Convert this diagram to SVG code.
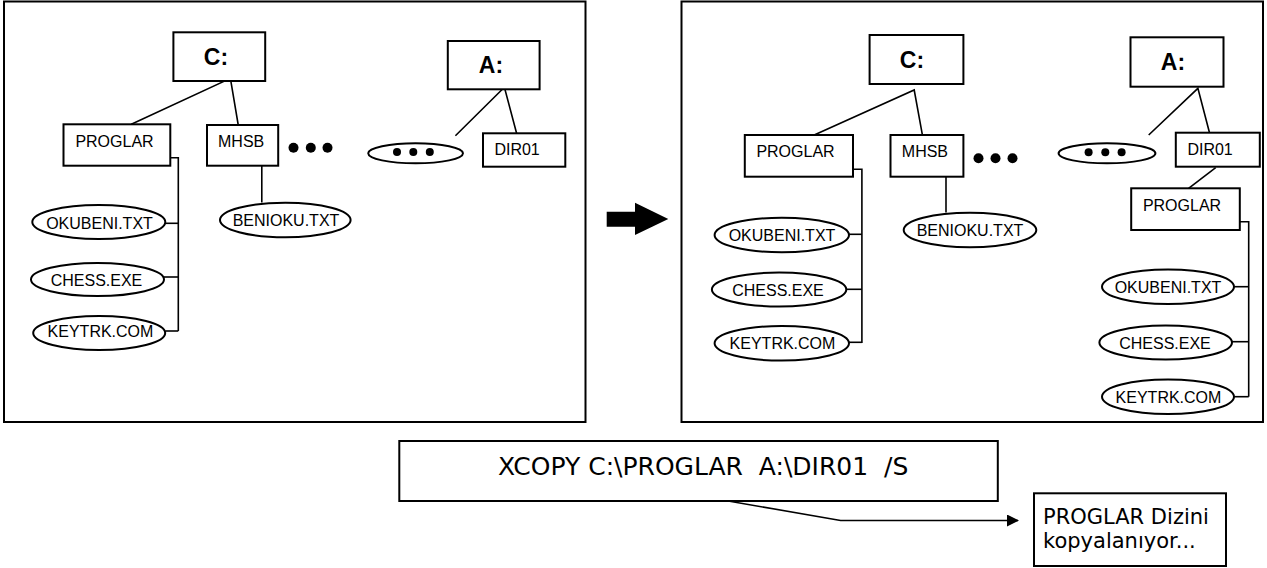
<svg xmlns="http://www.w3.org/2000/svg" width="1267" height="568" viewBox="0 0 1267 568">
<style>
.frame{fill:#fff;stroke:#000;stroke-width:2}
.box{fill:#fff;stroke:#000;stroke-width:2}
.ell{fill:#fff;stroke:#000;stroke-width:2}
.ln{fill:none;stroke:#000;stroke-width:1.6}
.drv{font-family:"Liberation Sans",Arial,sans-serif;font-weight:bold;font-size:23px;text-anchor:middle}
.lbl{font-family:"Liberation Sans",Arial,sans-serif;font-size:16px}
.elbl{font-family:"Liberation Sans",Arial,sans-serif;font-size:16px;text-anchor:middle}
.cmd{font-family:"DejaVu Sans",Verdana,sans-serif;font-size:25px}
.msg{font-family:"DejaVu Sans",Verdana,sans-serif;font-size:21px}
</style>
<defs>
<marker id="ah" markerWidth="12" markerHeight="12" refX="11" refY="6" orient="auto" markerUnits="userSpaceOnUse">
<path d="M0,0 L12,6 L0,12 Z" fill="#000"/>
</marker>
</defs>
<rect width="1267" height="568" fill="#fff"/>
<g id="panel-left"><rect class="frame" x="4" y="1.5" width="581.5" height="420.5"/></g>
<g id="panel-right"><rect class="frame" x="681.5" y="1.5" width="581.5" height="420.5"/></g>

<g id="connectors">
<polyline class="ln" points="131.3,124.3 230.4,78.3 238.4,126"/>
<polyline class="ln" points="455.4,135.7 504.4,87.3 516.6,133.3"/>
<line class="ln" x1="261.8" y1="165.7" x2="261.8" y2="202.5"/>
<polyline class="ln" points="170.3,157.7 178.3,157.7 178.3,331"/>
<line class="ln" x1="165.3" y1="223.3" x2="178.3" y2="223.3"/>
<line class="ln" x1="163.8" y1="277" x2="178.3" y2="277"/>
<line class="ln" x1="165.3" y1="331" x2="178.3" y2="331"/>
<polyline class="ln" points="814.2,135 914.2,90 922.7,136.7"/>
<polyline class="ln" points="1148.7,135 1197.9,88.3 1209.5,132.7"/>
<line class="ln" x1="1215.7" y1="167.7" x2="1188.6" y2="188.3"/>
<line class="ln" x1="946" y1="176.7" x2="946" y2="212.5"/>
<polyline class="ln" points="853,169.3 861.9,169.3 861.9,343"/>
<line class="ln" x1="849" y1="234.3" x2="861.9" y2="234.3"/>
<line class="ln" x1="846.4" y1="289.3" x2="861.9" y2="289.3"/>
<line class="ln" x1="849" y1="342.3" x2="861.9" y2="342.3"/>
<polyline class="ln" points="1239.8,221.7 1248.7,221.7 1248.7,396.7"/>
<line class="ln" x1="1234" y1="286.7" x2="1248.7" y2="286.7"/>
<line class="ln" x1="1232" y1="341.7" x2="1248.7" y2="341.7"/>
<line class="ln" x1="1234" y1="396.7" x2="1248.7" y2="396.7"/>
<polyline class="ln" points="665,490 840.6,520.5 1018,520.5" marker-end="url(#ah)"/>
</g>

<g id="big-arrow"><polygon points="606.7,211.7 635,211.7 635,202.7 668.3,219 635,235 635,226.7 606.7,226.7" fill="#000"/></g>

<g id="L-C"><rect class="box" x="173.4" y="32.3" width="91.8" height="48.7"/><text class="drv" x="216" y="65">C:</text></g>
<g id="L-A"><rect class="box" x="447.8" y="41" width="91.8" height="48.3"/><text class="drv" x="491" y="73">A:</text></g>
<g id="L-PROGLAR"><rect class="box" x="63.5" y="124.3" width="106.8" height="41.4"/><text class="lbl" x="75.4" y="147.3">PROGLAR</text></g>
<g id="L-MHSB"><rect class="box" x="207" y="125" width="71.2" height="40.7"/><text class="lbl" x="218" y="147">MHSB</text></g>
<g id="L-dots"><circle cx="293.5" cy="147.7" r="5"/><circle cx="310.8" cy="147.7" r="5"/><circle cx="327.5" cy="147.7" r="5"/></g>
<g id="L-more"><ellipse class="ell" cx="415.6" cy="153.3" rx="47.4" ry="10"/><circle cx="397" cy="152" r="4"/><circle cx="413.3" cy="152" r="4"/><circle cx="429.8" cy="152" r="4"/></g>
<g id="L-DIR01"><rect class="box" x="483" y="133.3" width="82.3" height="33.4"/><text class="lbl" x="494.4" y="155">DIR01</text></g>
<g id="L-OKUBENI"><ellipse class="ell" cx="98.8" cy="222" rx="66.5" ry="17"/><text class="elbl" x="99.5" y="229">OKUBENI.TXT</text></g>
<g id="L-CHESS"><ellipse class="ell" cx="97.5" cy="279.5" rx="66.5" ry="16.5"/><text class="elbl" x="96.5" y="285.5">CHESS.EXE</text></g>
<g id="L-KEYTRK"><ellipse class="ell" cx="99.2" cy="333" rx="66" ry="17"/><text class="elbl" x="100.5" y="337">KEYTRK.COM</text></g>
<g id="L-BENIOKU"><ellipse class="ell" cx="285.3" cy="220" rx="65.3" ry="17.3"/><text class="elbl" x="286" y="225.5">BENIOKU.TXT</text></g>

<g id="R-C"><rect class="box" x="869.6" y="35" width="93.8" height="49"/><text class="drv" x="912" y="68">C:</text></g>
<g id="R-A"><rect class="box" x="1130.5" y="37.3" width="93" height="49.4"/><text class="drv" x="1173" y="70">A:</text></g>
<g id="R-PROGLAR"><rect class="box" x="744.8" y="135" width="108.2" height="41.7"/><text class="lbl" x="756.4" y="157.3">PROGLAR</text></g>
<g id="R-MHSB"><rect class="box" x="890.5" y="135" width="72.9" height="41.7"/><text class="lbl" x="901.8" y="157.3">MHSB</text></g>
<g id="R-dots"><circle cx="978.5" cy="158.3" r="5"/><circle cx="995.5" cy="158.3" r="5"/><circle cx="1012.5" cy="158.3" r="5"/></g>
<g id="R-more"><ellipse class="ell" cx="1107" cy="153.3" rx="48.4" ry="10"/><circle cx="1088.6" cy="152.3" r="4"/><circle cx="1105.3" cy="152.3" r="4"/><circle cx="1121.6" cy="152.3" r="4"/></g>
<g id="R-DIR01"><rect class="box" x="1175.8" y="132.7" width="84" height="34"/><text class="lbl" x="1187.4" y="155">DIR01</text></g>
<g id="R-PROGLAR2"><rect class="box" x="1131.2" y="188.3" width="108.6" height="41.7"/><text class="lbl" x="1142.9" y="210.7">PROGLAR</text></g>
<g id="R-OKUBENI"><ellipse class="ell" cx="781.8" cy="235" rx="67.2" ry="17.3"/><text class="elbl" x="782" y="241">OKUBENI.TXT</text></g>
<g id="R-CHESS"><ellipse class="ell" cx="779.1" cy="289.5" rx="67.2" ry="17"/><text class="elbl" x="778" y="295.5">CHESS.EXE</text></g>
<g id="R-KEYTRK"><ellipse class="ell" cx="781.8" cy="343.3" rx="67.2" ry="17.3"/><text class="elbl" x="782.5" y="349">KEYTRK.COM</text></g>
<g id="R-BENIOKU"><ellipse class="ell" cx="970" cy="230" rx="66.3" ry="17.3"/><text class="elbl" x="970" y="235.5">BENIOKU.TXT</text></g>
<g id="R-OKUBENI2"><ellipse class="ell" cx="1168" cy="286.7" rx="66" ry="17.3"/><text class="elbl" x="1168" y="292.5">OKUBENI.TXT</text></g>
<g id="R-CHESS2"><ellipse class="ell" cx="1165.7" cy="342.5" rx="66.3" ry="17"/><text class="elbl" x="1165" y="348.5">CHESS.EXE</text></g>
<g id="R-KEYTRK2"><ellipse class="ell" cx="1168" cy="396.7" rx="66" ry="17.3"/><text class="elbl" x="1168.5" y="402.5">KEYTRK.COM</text></g>

<g id="cmd"><rect class="box" x="399.3" y="441" width="598.5" height="60"/><text class="cmd" x="498" y="475" xml:space="preserve">XCOPY C:\PROGLAR  A:\DIR01  /S</text></g>
<g id="msg"><rect class="box" x="1034" y="493.3" width="192" height="72.7"/><text class="msg" x="1043" y="524">PROGLAR Dizini</text><text class="msg" x="1043" y="548">kopyalanıyor...</text></g>
</svg>
